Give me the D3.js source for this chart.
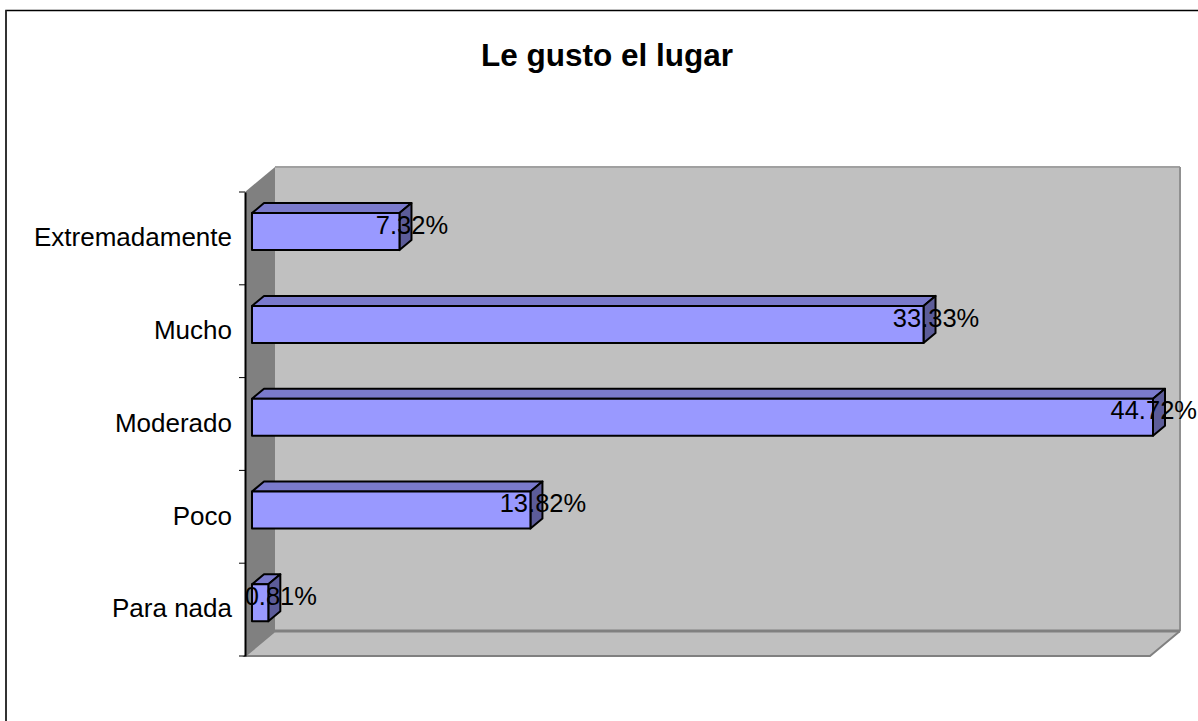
<!DOCTYPE html>
<html><head><meta charset="utf-8">
<script src="https://cdn.jsdelivr.net/npm/d3@7"></script>
<style>html,body{margin:0;padding:0;background:#fff}svg{display:block}text{font-family:"Liberation Sans",Arial,sans-serif;fill:#000}</style>
</head><body><div id="c"></div>
<script>
const categories=["Para nada","Poco","Moderado","Mucho","Extremadamente"];
const values=[0.81,13.82,44.72,33.33,7.32];
const labels=["0.81%","13.82%","44.72%","33.33%","7.32%"];
const title="Le gusto el lugar";

const W=1198,H=721;
const svg=d3.select("#c").append("svg").attr("width",W).attr("height",H);
const frameX=6,frameY=10.5;
svg.append("path").attr("d",`M${frameX},${H}V${frameY}H${W}`).attr("fill","none").attr("stroke","#000").attr("stroke-width",1.5);
svg.append("path").attr("d",`M${frameX},${H}V${frameY}`).attr("fill","none").attr("stroke","#333").attr("stroke-width",2);
svg.append("text").attr("x",607).attr("y",66).attr("text-anchor","middle").attr("font-weight","bold").attr("font-size",31.5).text(title);

const left=245,right=1150,top3d=192,bottom=656,wallDx=30,wallDy=-25;
const x=d3.scaleLinear().domain([0,44.72]).range([252,1153]);
const y=d3.scaleBand().domain(categories).range([bottom,top3d]);

const g=svg.append("g");
// back wall, side wall, floor
g.append("path").attr("d",`M${left+wallDx},${top3d+wallDy}H${right+wallDx}V${bottom+wallDy}H${left+wallDx}Z`).attr("fill","#c0c0c0");
g.append("path").attr("d",`M${left+wallDx},${top3d+wallDy}H${right+wallDx}`).attr("stroke","#a0a0a0").attr("stroke-width",2);
g.append("path").attr("d",`M${right+wallDx},${top3d+wallDy}V${bottom+wallDy}`).attr("stroke","#909090").attr("stroke-width",2);
g.append("path").attr("d",`M${left},${top3d}L${left+wallDx},${top3d+wallDy}V${bottom+wallDy}L${left},${bottom}Z`).attr("fill","#808080");
g.append("path").attr("d",`M${left},${bottom}L${left+wallDx},${bottom+wallDy}H${right+wallDx}L${right},${bottom}Z`).attr("fill","#c0c0c0");
g.append("path").attr("d",`M${left+wallDx},${bottom+wallDy}H${right+wallDx}`).attr("fill","none").attr("stroke","#808080").attr("stroke-width",3);
g.append("path").attr("d",`M${right+wallDx},${bottom+wallDy}L${right},${bottom}H${left}L${left+wallDx},${bottom+wallDy}`).attr("fill","none").attr("stroke","#808080").attr("stroke-width",2);

// category axis
const axis=d3.axisLeft(y).tickSize(0).tickPadding(13);
const ag=g.append("g").attr("transform",`translate(${left},0)`).call(axis);
ag.select(".domain").attr("stroke","#000").attr("stroke-width",2);
ag.selectAll("text").attr("font-size",26).style("font-family",'"Liberation Sans",Arial,sans-serif').attr("dy","0.3em");
const edges=categories.map(c=>y(c)+y.bandwidth()).concat([top3d]);
ag.selectAll("line.edge").data(edges).join("line").attr("class","edge")
  .attr("x1",-6).attr("x2",0).attr("y1",d=>d).attr("y2",d=>d).attr("stroke","#000");

// bars
const bh=37, dx=12, dy=-10, shift=-6.8;
const bars=g.selectAll("g.bar").data(categories.map((c,i)=>({c,v:values[i],l:labels[i]}))).join("g").attr("class","bar");
const by=d=>y(d.c)+y.bandwidth()/2-bh/2+shift;
const st={stroke:"#000","stroke-width":2,"stroke-linejoin":"round"};
function styled(s){for(const k in st)s.attr(k,st[k]);return s;}
styled(bars.append("path").attr("fill","#7a7acc").attr("d",d=>`M${x(0)},${by(d)}l${dx},${dy}H${x(d.v)+dx}l${-dx},${-dy}Z`));
styled(bars.append("path").attr("fill","#5c5c99").attr("d",d=>`M${x(d.v)},${by(d)}l${dx},${dy}v${bh}l${-dx},${-dy}Z`));
styled(bars.append("rect").attr("fill","#9999ff").attr("x",x(0)).attr("y",by).attr("width",d=>x(d.v)-x(0)).attr("height",bh));
bars.append("text").attr("font-size",25.5).attr("text-anchor","middle").attr("dy","0.36em")
  .attr("y",d=>by(d)+bh/2-7).text(d=>d.l)
  .attr("x",function(d){const w=this.getComputedTextLength();return Math.min(x(d.v)+dx+0.5,W-1-w/2);});
</script></body></html>
